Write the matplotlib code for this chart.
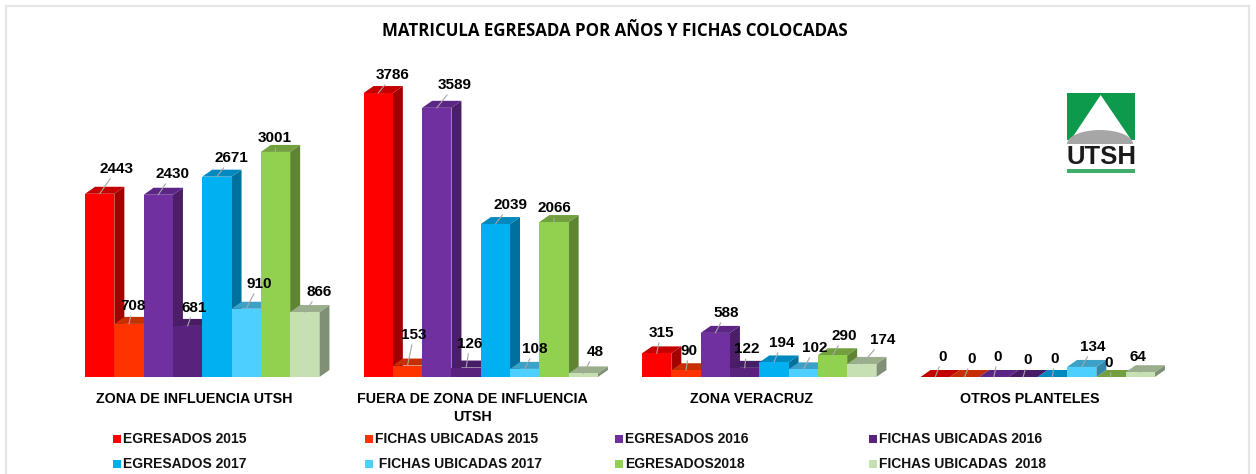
#!/usr/bin/env python3
"""Matricula egresada por años y fichas colocadas: fake 3D grouped bars."""

import matplotlib

matplotlib.use("Agg")
import matplotlib.pyplot as plt
import numpy as np
from matplotlib.patches import Ellipse, Polygon, Rectangle
from matplotlib.transforms import ScaledTranslation

categories = [
    "ZONA DE INFLUENCIA UTSH",
    "FUERA DE ZONA DE INFLUENCIA\nUTSH",
    "ZONA VERACRUZ",
    "OTROS PLANTELES",
]
series_names = [
    "EGRESADOS 2015",
    "FICHAS UBICADAS 2015",
    "EGRESADOS 2016",
    "FICHAS UBICADAS 2016",
    "EGRESADOS 2017",
    " FICHAS UBICADAS 2017",
    "EGRESADOS2018",
    "FICHAS UBICADAS  2018",
]
egresados_2015 = [2443, 3786, 315, 0]
fichas_2015 = [708, 153, 90, 0]
egresados_2016 = [2430, 3589, 588, 0]
fichas_2016 = [681, 126, 122, 0]
egresados_2017 = [2671, 2039, 194, 0]
fichas_2017 = [910, 108, 102, 134]
egresados_2018 = [3001, 2066, 290, 0]
fichas_2018 = [866, 48, 174, 64]

series_values = [
    egresados_2015, fichas_2015, egresados_2016, fichas_2016,
    egresados_2017, fichas_2017, egresados_2018, fichas_2018,
]

# front, top, side
colors = [
    ("#FF0000", "#C40000", "#A30000"),
    ("#FF3300", "#C63000", "#A02600"),
    ("#7030A0", "#5B2685", "#4A1F68"),
    ("#59237D", "#481C66", "#3A1653"),
    ("#00B0F0", "#0089BE", "#00719C"),
    ("#4DCFFF", "#3DA0C6", "#3387A8"),
    ("#92D050", "#72A03F", "#5F8533"),
    ("#C6E0B4", "#9AAE8C", "#7F9074"),
]

# label centres in image pixels (x, y from top), they were dragged by hand in the original
label_px = [
    [(117, 169), (393, 75), (661, 333), (943, 357)],
    [(133, 306), (414, 335), (689, 351), (972, 359)],
    [(172, 174), (455, 85), (726, 313), (998, 357)],
    [(194, 308), (470, 344), (747, 349), (1028, 360)],
    [(231, 158), (510, 205), (782, 343), (1055, 359)],
    [(259, 284), (535, 349), (815, 348), (1093, 347)],
    [(275, 138), (554, 208), (844, 336), (1109, 363)],
    [(319, 292), (595, 352), (883, 340), (1138, 357)],
]

legend_text_x = [123, 375, 625, 879]
legend_row_y = [439, 464]

W, H = 1256, 474
fig = plt.figure(figsize=(W / 100, H / 100), dpi=100, facecolor="white")

# frame, open at the bottom
for xs, ys in (([6, 6], [H, 6]), ([6, 1249], [6, 6]), ([1249, 1249], [6, H])):
    fig.add_artist(plt.Line2D(np.array(xs) / W, 1 - np.array(ys) / H, color="#E6E6E6", lw=1.6))

ax = fig.add_axes([63 / W, 97 / H, 1114 / W, 300 / H])
ax.set_xlim(-0.5, 3.5)
ax.set_ylim(0, 4000)
px_x = 1114 / 4
px_y = 300 / 4000
bar_w = 29.3 / px_x
depth_x = 10 / px_x
depth_y = 7 / px_y
x_cat = np.arange(len(categories))

z = 2
for j, vals in enumerate(series_values):
    front, top, side = colors[j]
    left = x_cat + (j - 4) * bar_w
    for x0, v in zip(left, vals):
        x1 = x0 + bar_w
        ax.add_patch(Polygon([(x1, 0), (x1 + depth_x, depth_y), (x1 + depth_x, v + depth_y), (x1, v)],
                             facecolor=side, edgecolor="none", zorder=z))
        ax.add_patch(Polygon([(x0, v), (x0 + depth_x, v + depth_y), (x1 + depth_x, v + depth_y), (x1, v)],
                             facecolor=top, edgecolor="none", zorder=z + 0.1))
    ax.bar(left, vals, width=bar_w, align="edge", color=front, linewidth=0, zorder=z + 0.2)
    z += 1

for j, vals in enumerate(series_values):
    left = x_cat + (j - 4) * bar_w
    for i, v in enumerate(vals):
        px, py = label_px[j][i]
        ax.annotate(
            str(v),
            xy=(left[i] + bar_w / 2, v),
            xytext=(px, H - py),
            textcoords="figure pixels",
            ha="center",
            va="center",
            fontsize=11,
            fontweight="bold",
            family="Liberation Sans",
            color="black",
            zorder=50,
            annotation_clip=False,
            arrowprops=dict(arrowstyle="-", color="#A6A6A6", lw=0.8, shrinkA=0, shrinkB=0),
        )

ax.set_xticks(x_cat)
ax.set_xticklabels(categories, family="Liberation Sans", fontweight="bold", fontsize=10.3, linespacing=1.3)
ax.tick_params(axis="x", length=0, pad=11)
# labels sit a little left of the group centres in the original
shift = ScaledTranslation(-8 / 100, 0, fig.dpi_scale_trans)
for lab in ax.get_xticklabels():
    lab.set_transform(lab.get_transform() + shift)
ax.set_yticks([])
for s in ax.spines.values():
    s.set_visible(False)
ax.patch.set_alpha(0)

fig.text(615 / W, 1 - 31 / H, "MATRICULA EGRESADA POR AÑOS Y FICHAS COLOCADAS",
         ha="center", va="center", fontsize=12.2, fontweight="bold", family="Open Sans", color="black")

# legend, 4 columns with a fixed pitch
for j, name in enumerate(series_names):
    col, row = j % 4, j // 4
    tx = legend_text_x[col]
    ty = legend_row_y[row]
    fig.add_artist(Rectangle(((tx - 10) / W, 1 - (ty + 4) / H), 8 / W, 8 / H,
                             transform=fig.transFigure, facecolor=colors[j][0], edgecolor="none"))
    fig.text(tx / W, 1 - ty / H, name, ha="left", va="center", family="Liberation Sans",
             fontweight="bold", fontsize=10, color="#111111")

# UTSH logo
logo = fig.add_axes([1067 / W, 1 - 173 / H, 68 / W, 80 / H])
logo.set_xlim(1067, 1135)
logo.set_ylim(173, 93)
logo.axis("off")
logo.add_patch(Rectangle((1067, 93), 68, 47, facecolor="#0E9A4C", edgecolor="none"))
logo.add_patch(Polygon([(1100.7, 95), (1070, 141), (1132, 141)], facecolor="white", edgecolor="none"))
logo.add_patch(Ellipse((1100, 144), 66, 28, facecolor="#A6A6A6", edgecolor="none", zorder=3))
logo.add_patch(Rectangle((1067, 144), 68, 29, facecolor="white", edgecolor="none", zorder=4))
logo.text(1101, 157, "UTSH", ha="center", va="center", fontsize=18.5, fontweight="bold",
          family="Liberation Sans", color="#1A1A1A", zorder=5)
logo.add_patch(Rectangle((1067, 169), 68, 4, facecolor="#3FAE6A", edgecolor="none", zorder=5))

fig.savefig("out.png", dpi=100, facecolor="white")
